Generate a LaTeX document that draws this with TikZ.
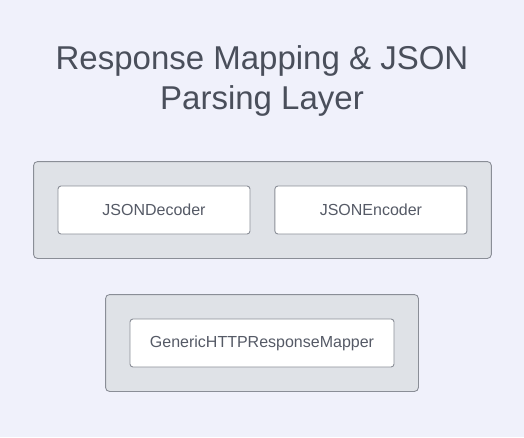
\documentclass[tikz,border=0pt]{standalone}
\usepackage{fontspec}
\setmainfont{Liberation Sans}
\usetikzlibrary{positioning,fit,backgrounds}
\definecolor{PageLavender}{HTML}{F0F1FB}
\definecolor{LayerGray}{HTML}{DFE2E7}
\definecolor{EdgeGray}{HTML}{8A8E97}
\definecolor{TitleInk}{HTML}{4A4F5B}
\definecolor{LabelInk}{HTML}{555A66}

\begin{document}
\begin{tikzpicture}[
          x=1pt, y=1pt,
          node distance=24pt and 24pt,
          title/.style={font=\fontsize{33}{40}\selectfont, text=TitleInk, align=center},
          component/.style={rectangle, rounded corners=3pt, draw=EdgeGray, line width=0.9pt, fill=white, minimum width=192pt, minimum height=48pt, font=\fontsize{16}{19}\selectfont, text=LabelInk, align=center},
          layer/.style={rectangle, rounded corners=4pt, draw=EdgeGray, line width=0.9pt, fill=LayerGray, inner sep=24pt}
        ]
          \useasboundingbox (0,0) rectangle (524,-437);

          % Title
          \node[title] (heading) at (262,-81) {Response Mapping \& JSON\\Parsing Layer};

          % Layer 1: JSON codecs
          \node[component] (decoder) at (154,-210) {JSONDecoder};
          \node[component, right=of decoder] (encoder) {JSONEncoder};

          % Layer 2: Mapper
          \node[component, minimum width=264pt] (mapper) at (262,-343) {GenericHTTPResponseMapper};

          % Page and containers
          \begin{scope}[on background layer]
            \fill[PageLavender] (0,0) rectangle (524,-437);
            \node[layer, fit=(decoder) (encoder)] (codecs) {};
            \node[layer, fit=(mapper)] (mapping) {};
          \end{scope}

        \end{tikzpicture}
\end{document}
